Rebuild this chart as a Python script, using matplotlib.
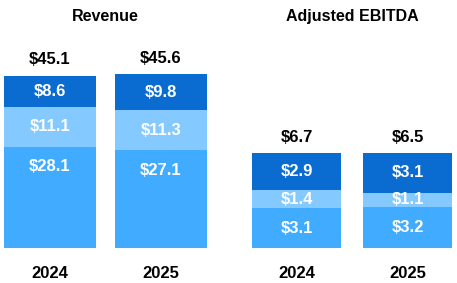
import numpy as np
import matplotlib.pyplot as plt

plt.rcParams['font.family'] = ['Liberation Sans', 'DejaVu Sans']

years = ["2024", "2025"]

#revenue segments, bottom to top
rev_bottom = [28.1, 27.1]
rev_middle = [11.1, 11.3]
rev_top = [8.6, 9.8]
rev_total = [45.1, 45.6]

#adjusted ebitda segments, bottom to top
ebitda_bottom = [3.1, 3.2]
ebitda_middle = [1.4, 1.1]
ebitda_top = [2.9, 3.1]
ebitda_total = [6.7, 6.5]

c_bottom = "#41abff"
c_middle = "#84c9ff"
c_top = "#0a6bd0"

W, H = 457, 283
fig = plt.figure(figsize=(W/100, H/100), dpi=100)

#axes placed in pixels: left, bottom(from top of image), width, top
def px_axes(left, width, top, bottom):
    return fig.add_axes([left/W, (H-bottom)/H, width/W, (bottom-top)/H])

panels = [
    ("Revenue", 0, rev_bottom, rev_middle, rev_top, rev_total, 3.6, 0.82),
    ("Adjusted EBITDA", 246.7, ebitda_bottom, ebitda_middle, ebitda_top, ebitda_total, 12.84, 0.80),
]

fs = 12

for title, left, bot, mid, top, tot, scale, bw in panels:
    ax = px_axes(left, 211, 30, 248)
    x = np.arange(len(years))
    bot = np.array(bot)
    mid = np.array(mid)
    top = np.array(top)
    ax.bar(x, bot, width=bw, color=c_bottom, edgecolor="none")
    ax.bar(x, mid, width=bw, bottom=bot, color=c_middle, edgecolor="none")
    ax.bar(x, top, width=bw, bottom=bot+mid, color=c_top, edgecolor="none")

    for i in range(len(x)):
        #bottom label sits near the top of the bottom segment
        ax.annotate(f"${bot[i]:.1f}", (x[i], bot[i]), xytext=(0, -14.5), textcoords="offset points",
                    ha="center", va="center", color="white", fontsize=fs, fontweight="bold")
        ax.text(x[i], bot[i] + mid[i]/2, f"${mid[i]:.1f}", ha="center", va="center",
                color="white", fontsize=fs, fontweight="bold")
        ax.text(x[i], bot[i] + mid[i] + top[i]/2, f"${top[i]:.1f}", ha="center", va="center",
                color="white", fontsize=fs, fontweight="bold")
        ax.annotate(f"${tot[i]:.1f}", (x[i], bot[i] + mid[i] + top[i]), xytext=(0, 11.5),
                    textcoords="offset points", ha="center", va="center",
                    color="black", fontsize=fs, fontweight="bold")

    ax.set_xlim(-0.45, 1.45)
    ax.set_ylim(0, 218/scale)
    ax.set_xticks(x)
    ax.set_xticklabels(years, fontsize=fs, fontweight="bold")
    ax.tick_params(axis="x", length=0, pad=13)
    ax.set_yticks([])
    for s in ax.spines.values():
        s.set_visible(False)
    ax.set_title(title, fontsize=11.5, fontweight="bold", pad=6.5)

fig.savefig("out.png", dpi=100)
